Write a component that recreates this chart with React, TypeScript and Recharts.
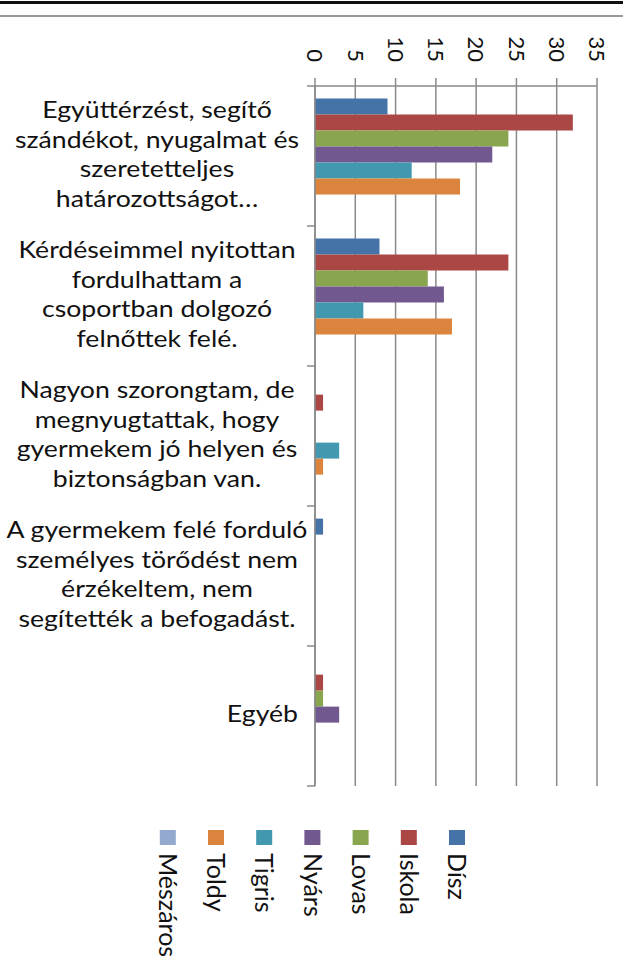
import { Bar, BarChart, CartesianGrid, XAxis, YAxis } from "recharts";

const CATEGORIES = [
  "Együttérzést, segítő\nszándékot, nyugalmat és\nszeretetteljes\nhatározottságot…",
  "Kérdéseimmel nyitottan\nfordulhattam a\ncsoportban dolgozó\nfelnőttek felé.",
  "Nagyon szorongtam, de\nmegnyugtattak, hogy\ngyermekem jó helyen és\nbiztonságban van.",
  "A gyermekem felé forduló\nszemélyes törődést nem\nérzékeltem, nem\nsegítették a befogadást.",
  "Egyéb",
];

const DISZ = [9, 8, 0, 1, 0];
const ISKOLA = [32, 24, 1, 0, 1];
const LOVAS = [24, 14, 0, 0, 1];
const NYARS = [22, 16, 0, 0, 3];
const TIGRIS = [12, 6, 3, 0, 0];
const TOLDY = [18, 17, 1, 0, 0];
const MESZAROS = [0, 0, 0, 0, 0];

const X_TICKS = [0, 5, 10, 15, 20, 25, 30, 35];

const SERIES = [
  { key: "disz", name: "Dísz", values: DISZ, color: "#4572A7" },
  { key: "iskola", name: "Iskola", values: ISKOLA, color: "#AA4643" },
  { key: "lovas", name: "Lovas", values: LOVAS, color: "#89A54E" },
  { key: "nyars", name: "Nyárs", values: NYARS, color: "#71588F" },
  { key: "tigris", name: "Tigris", values: TIGRIS, color: "#4198AF" },
  { key: "toldy", name: "Toldy", values: TOLDY, color: "#DB843D" },
  { key: "meszaros", name: "Mészáros", values: MESZAROS, color: "#93A9CF" },
];

const data = CATEGORIES.map((cat, i) => {
  const row: Record<string, string | number> = { cat };
  SERIES.forEach((s) => (row[s.key] = s.values[i]));
  return row;
});

// layout
const W = 623;
const H = 969;
const PLOT_LEFT = 315;
const PLOT_TOP = 86;
const PLOT_BOTTOM = 786;
const PLOT_RIGHT = 597;
const BAND = (PLOT_BOTTOM - PLOT_TOP) / CATEGORIES.length;
const GRID = "#8a8a8a";
const FONT = "Lato, 'Noto Sans', sans-serif";

function CategoryTick(props: any) {
  const { y, payload, index } = props;
  const lines = String(payload.value).split("\n");
  const lineH = 29.5;
  const y0 = y - ((lines.length - 1) * lineH) / 2;
  // single-line labels sit against the axis, wrapped ones are centred
  const single = lines.length === 1;
  const tx = single ? PLOT_LEFT - 17 : 157;
  return (
    <g>
      <line x1={PLOT_LEFT - 8} x2={PLOT_LEFT} y1={y - BAND / 2} y2={y - BAND / 2} stroke={GRID} strokeWidth={1.5} />
      {index === CATEGORIES.length - 1 && (
        <line x1={PLOT_LEFT - 8} x2={PLOT_LEFT} y1={y + BAND / 2} y2={y + BAND / 2} stroke={GRID} strokeWidth={1.5} />
      )}
      <g transform={`translate(${tx}, ${y0 - 2}) scale(1.11, 1)`}>
        <text textAnchor={single ? "end" : "middle"} fontSize={24} fontFamily={FONT} fill="#111">
          {lines.map((l, i) => (
            <tspan key={i} x={0} y={i * lineH} dy="0.35em">
              {l}
            </tspan>
          ))}
        </text>
      </g>
    </g>
  );
}

function ValueTick(props: any) {
  const { x, payload } = props;
  return (
    <text
      transform={`translate(${x}, 62) rotate(90)`}
      textAnchor="end"
      dy="0.35em"
      fontSize={22}
      fontFamily={FONT}
      fill="#111"
    >
      {payload.value}
    </text>
  );
}

function RotatedLegend() {
  const right = 449;
  const step = 48.2;
  return (
    <svg width={W} height={H - 825} style={{ position: "absolute", left: 0, top: 825 }}>
      {SERIES.map((s, i) => {
        const x = right - i * step;
        return (
          <g key={s.key}>
            <rect x={x} y={5} width={16} height={15} fill={s.color} />
            <text
              transform={`translate(${x + 8}, 28) rotate(90)`}
              dy="0.35em"
              fontSize={25}
              fontFamily={FONT}
              fill="#111"
            >
              {s.name}
            </text>
          </g>
        );
      })}
    </svg>
  );
}

export default function App() {
  return (
    <div style={{ position: "absolute", left: 0, top: 0, width: W, height: H, background: "#fff" }}>
      <div style={{ position: "absolute", left: 0, top: 1, width: W, height: 3, background: "#111" }} />
      <div style={{ position: "absolute", left: 0, top: 15, width: W, height: 2, background: "#999" }} />
      <BarChart
        width={W}
        height={PLOT_BOTTOM + 2}
        data={data}
        layout="vertical"
        margin={{ top: 0, right: W - PLOT_RIGHT, bottom: 2, left: 0 }}
        barCategoryGap="9%"
        barGap={0}
      >
        <CartesianGrid horizontal={false} stroke={GRID} strokeWidth={1.5} />
        <XAxis
          type="number"
          orientation="top"
          domain={[0, 35]}
          ticks={X_TICKS}
          height={PLOT_TOP}
          tickSize={8}
          axisLine={{ stroke: GRID, strokeWidth: 1.5 }}
          tickLine={{ stroke: GRID, strokeWidth: 1.5 }}
          tick={<ValueTick />}
          interval={0}
        />
        <YAxis
          type="category"
          dataKey="cat"
          width={PLOT_LEFT}
          axisLine={{ stroke: GRID, strokeWidth: 1.5 }}
          tickLine={false}
          tick={<CategoryTick />}
          interval={0}
        />
        {SERIES.map((s) => (
          <Bar key={s.key} dataKey={s.key} name={s.name} fill={s.color} isAnimationActive={false} />
        ))}
      </BarChart>
      <RotatedLegend />
    </div>
  );
}
